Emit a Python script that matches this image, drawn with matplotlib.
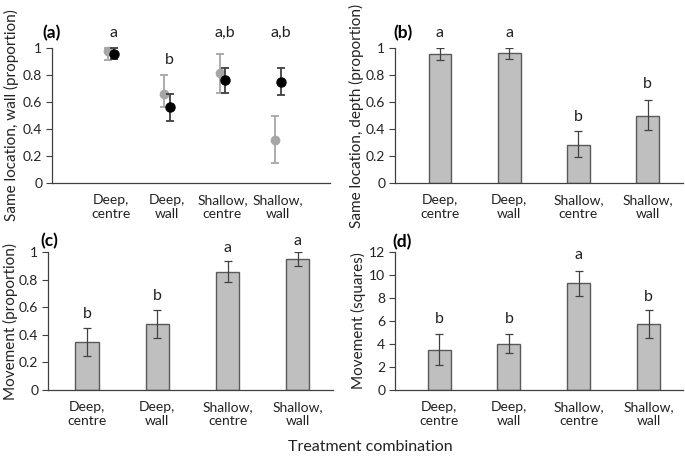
import matplotlib.pyplot as plt
import numpy as np

plt.rcParams['font.family'] = ['Lato', 'DejaVu Sans']

categories = ["Deep,\ncentre", "Deep,\nwall", "Shallow,\ncentre", "Shallow,\nwall"]

# (a) same location, wall: two series (grey and black points)
wall_grey = [0.975, 0.66, 0.815, 0.32]
wall_grey_lo = [0.91, 0.56, 0.67, 0.15]
wall_grey_hi = [1.0, 0.80, 0.955, 0.50]
wall_black = [0.955, 0.56, 0.76, 0.75]
wall_black_lo = [0.915, 0.46, 0.67, 0.655]
wall_black_hi = [1.0, 0.66, 0.855, 0.85]
wall_letters = ["a", "b", "a,b", "a,b"]
wall_letter_y = [1.11, 0.91, 1.11, 1.11]

# (b) same location, depth
depth = [0.955, 0.96, 0.285, 0.50]
depth_lo = [0.91, 0.92, 0.19, 0.39]
depth_hi = [1.0, 1.0, 0.385, 0.615]
depth_letters = ["a", "a", "b", "b"]
depth_letter_y = [1.11, 1.11, 0.49, 0.73]

# (c) movement proportion
move_prop = [0.35, 0.48, 0.855, 0.95]
move_prop_lo = [0.25, 0.38, 0.78, 0.90]
move_prop_hi = [0.45, 0.58, 0.935, 1.0]
move_prop_letters = ["b", "b", "a", "a"]
move_prop_letter_y = [0.55, 0.68, 1.03, 1.08]

# (d) movement squares
move_sq = [3.5, 4.0, 9.3, 5.75]
move_sq_lo = [2.15, 3.2, 8.2, 4.5]
move_sq_hi = [4.9, 4.85, 10.35, 7.0]
move_sq_letters = ["b", "b", "a", "b"]
move_sq_letter_y = [6.2, 6.2, 11.7, 8.1]

W, H = 685, 459
fig = plt.figure(figsize=(W / 100, H / 100), dpi=100)
TXT = '#222222'

def px_axes(l, r, b, t):
    return fig.add_axes([l / W, 1 - b / H, (r - l) / W, (b - t) / H])

def style(ax, ylim, yticks, ylabel, labelx):
    ax.set_ylim(*ylim)
    ax.set_yticks(yticks)
    ax.set_yticklabels([f"{v:g}" for v in yticks])
    ax.set_xticks(range(4))
    ax.set_xticklabels(categories, fontsize=10, color=TXT, linespacing=1.15)
    ax.tick_params(axis='x', length=0, pad=8)
    ax.tick_params(axis='y', direction='out', length=4, width=0.8, color='#404040',
                   labelsize=10, labelcolor=TXT, pad=3)
    for s in ['top', 'right']:
        ax.spines[s].set_visible(False)
    for s in ['left', 'bottom']:
        ax.spines[s].set_color('#404040')
        ax.spines[s].set_linewidth(0.9)
    ax.set_ylabel(ylabel, fontsize=11, color=TXT)
    ax.yaxis.set_label_coords(labelx, 0.5)

def err(v, lo, hi):
    v = np.array(v)
    return [v - np.array(lo), np.array(hi) - v]

def bars(ax, vals, lo, hi, letters, letter_y):
    x = np.arange(4)
    ax.bar(x, vals, width=0.33, color='#BFBFBF', edgecolor='#595959', linewidth=1.0, zorder=2)
    ax.errorbar(x, vals, yerr=err(vals, lo, hi), fmt='none', ecolor='#404040',
                elinewidth=0.9, capsize=3, capthick=0.9, zorder=3)
    for xi, t, y in zip(x, letters, letter_y):
        ax.text(xi, y, t, ha='center', va='center', fontsize=11.5, color=TXT, clip_on=False)

# (a)
ax = px_axes(52, 330, 183, 48)
x = np.arange(4)
ax.errorbar(x - 0.05, wall_grey, yerr=err(wall_grey, wall_grey_lo, wall_grey_hi), fmt='o',
            color='#A6A6A6', ms=6, ecolor='#A6A6A6', elinewidth=1.3, capsize=3, capthick=1.3,
            clip_on=False, zorder=3)
ax.errorbar(x + 0.05, wall_black, yerr=err(wall_black, wall_black_lo, wall_black_hi), fmt='o',
            color='black', ms=6.5, ecolor='#404040', elinewidth=1.3, capsize=3, capthick=1.3,
            clip_on=False, zorder=4)
for xi, t, y in zip(x, wall_letters, wall_letter_y):
    ax.text(xi + 0.05, y, t, ha='center', va='center', fontsize=11.5, color=TXT, clip_on=False)
ax.set_xlim(-1.06, 3.93)
style(ax, (0, 1), [0, 0.2, 0.4, 0.6, 0.8, 1], "Same location, wall (proportion)", -0.12)

# (b)
ax = px_axes(395, 683, 183, 48)
bars(ax, depth, depth_lo, depth_hi, depth_letters, depth_letter_y)
ax.set_xlim(-0.65, 3.51)
style(ax, (0, 1), [0, 0.2, 0.4, 0.6, 0.8, 1], "Same location, depth (proportion)", -0.108)

# (c)
ax = px_axes(48, 333, 390, 252)
bars(ax, move_prop, move_prop_lo, move_prop_hi, move_prop_letters, move_prop_letter_y)
ax.set_xlim(-0.555, 3.5)
style(ax, (0, 1), [0, 0.2, 0.4, 0.6, 0.8, 1], "Movement (proportion)", -0.105)

# (d)
ax = px_axes(395, 683, 390, 252)
bars(ax, move_sq, move_sq_lo, move_sq_hi, move_sq_letters, move_sq_letter_y)
ax.set_xlim(-0.63, 3.49)
style(ax, (0, 12), [0, 2, 4, 6, 8, 10, 12], "Movement (squares)", -0.1)

# panel letters
for t, px, py in [("(a)", 52, 33), ("(b)", 403, 33), ("(c)", 49, 241), ("(d)", 402, 242)]:
    fig.text(px / W, 1 - py / H, t, ha='center', va='center', fontsize=12.5, fontweight='bold')

fig.text(370 / W, 1 - 447 / H, "Treatment combination", ha='center', va='center',
         fontsize=11.5, color=TXT)

plt.savefig('out.png', dpi=100)
plt.close()
